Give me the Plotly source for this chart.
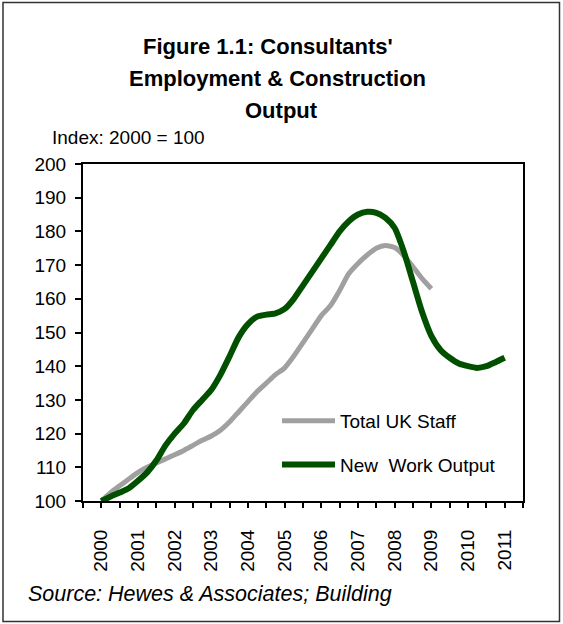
import plotly.graph_objects as go

# Quarterly positions (years as decimals)
quarters_green = [2000 + 0.25 * i for i in range(45)]   # 2000Q1 .. 2011Q1
quarters_staff = [2000 + 0.25 * i for i in range(37)]   # 2000Q1 .. 2009Q1

new_work_output = [
    100, 101.3, 102.5, 103.8, 106, 108.5, 112, 116.5,
    120, 123, 127, 130, 133, 137.5, 143, 148.7,
    152.5, 154.7, 155.3, 155.7, 157, 160, 164, 168,
    172, 176, 180, 183, 185, 185.8, 185.5, 184,
    181, 174, 165, 156, 149, 144.8, 142.5, 140.8,
    140, 139.5, 140, 141.2, 142.5,
]

total_uk_staff = [
    100, 102.5, 104.5, 106.5, 108.5, 110, 111.3, 112.5,
    113.7, 115, 116.5, 118, 119.3, 121, 123.5, 126.5,
    129.5, 132.5, 135, 137.5, 139.5, 143, 147, 151,
    155, 158, 162.5, 167.5, 170.5, 173, 175, 175.8,
    175.2, 172.8, 169.5, 166, 163,
]

year_ticks = list(range(2000, 2012))
year_labels = [str(y) for y in year_ticks]
y_ticks = list(range(100, 201, 10))

FONT = "Liberation Sans, Arial, sans-serif"

fig = go.Figure()
fig.add_trace(go.Scatter(
    x=quarters_staff, y=total_uk_staff, name="Total UK Staff",
    mode="lines", line=dict(color="#a0a0a0", width=5, shape="spline", smoothing=0.6),
    legendgroup="a",
))
fig.add_trace(go.Scatter(
    x=quarters_green, y=new_work_output, name="New  Work Output",
    mode="lines", line=dict(color="#005000", width=6, shape="spline", smoothing=0.6),
    legendgroup="b",
))

W, H = 563, 624
L, R, T, B = 83, 40, 164, 123
pw, ph = W - L - R, H - T - B


def px(x):
    return (x - L) / pw


def py(y):
    return (H - B - y) / ph


axis_common = dict(showgrid=False, zeroline=False)

fig.update_layout(
    width=W, height=H,
    margin=dict(l=L, r=R, t=T, b=B, pad=0),
    paper_bgcolor="white", plot_bgcolor="white",
    font=dict(family=FONT, size=19, color="black"),
    showlegend=True,
    legend=dict(
        x=px(277), y=py(402), xanchor="left", yanchor="top",
        bgcolor="rgba(0,0,0,0)", font=dict(size=19, family=FONT),
        tracegroupgap=16, itemwidth=53,
    ),
    xaxis=dict(
        **axis_common, range=[1999.5, 2011.5],
        tickmode="array", tickvals=year_ticks, ticktext=year_labels,
        tickangle=-90, ticks="outside", ticklen=5, tickwidth=2, tickcolor="black",
        minor=dict(tickmode="linear", tick0=1999.5, dtick=1, ticks="outside",
                   ticklen=5, tickwidth=2, tickcolor="black"),
        showline=True, linecolor="black", linewidth=2, mirror=True,
        tickfont=dict(size=19, family=FONT), ticklabelstandoff=14,
    ),
    yaxis=dict(
        **axis_common, range=[100, 200],
        tickmode="array", tickvals=y_ticks, ticktext=[str(v) for v in y_ticks],
        ticks="outside", ticklen=6, tickwidth=2, tickcolor="black",
        showline=True, linecolor="black", linewidth=2, mirror=True,
        tickfont=dict(size=19, family=FONT), ticklabelstandoff=5,
    ),
    xaxis2=dict(
        **axis_common, range=[1999.5, 2011.5], overlaying="x", anchor="y",
        side="bottom", tickmode="linear", tick0=1999.5, dtick=0.5,
        ticks="inside", ticklen=5, tickwidth=2, tickcolor="black",
        showticklabels=False, showline=False,
    ),
    yaxis2=dict(
        **axis_common, range=[100, 200], overlaying="y", anchor="x",
        side="left", tickmode="linear", tick0=100, dtick=10,
        ticks="inside", ticklen=6, tickwidth=2, tickcolor="black",
        showticklabels=False, showline=False,
    ),
)

title_lines = ["Figure 1.1: Consultants'", "Employment & Construction", "Output"]
title_y = [47, 78, 110]
title_x = [268, 277, 281]
for txt, xc, yc in zip(title_lines, title_x, title_y):
    fig.add_annotation(
        text=f"<b>{txt}</b>", xref="paper", yref="paper",
        x=px(xc), y=py(yc), xanchor="center", yanchor="middle",
        showarrow=False, font=dict(size=22, family=FONT, color="black"),
    )

fig.add_annotation(
    text="Index: 2000 = 100", xref="paper", yref="paper",
    x=px(50), y=py(137), xanchor="left", yanchor="middle",
    showarrow=False, font=dict(size=19, family=FONT, color="black"),
)
fig.add_annotation(
    text="<i>Source: Hewes & Associates; Building</i>", xref="paper", yref="paper",
    x=px(26), y=py(594), xanchor="left", yanchor="middle",
    showarrow=False, font=dict(size=21.5, family=FONT, color="black"),
)

# outer frame around the whole picture
fig.add_shape(
    type="rect", xref="paper", yref="paper",
    x0=px(3), x1=px(559.5), y0=py(621.5), y1=py(2.5),
    line=dict(color="#333333", width=1.5), fillcolor="rgba(0,0,0,0)",
)

fig.write_html(
    "out.html",
    config={"displayModeBar": False},
    post_script="document.body.style.margin='0';document.body.style.overflow='hidden';",
)
